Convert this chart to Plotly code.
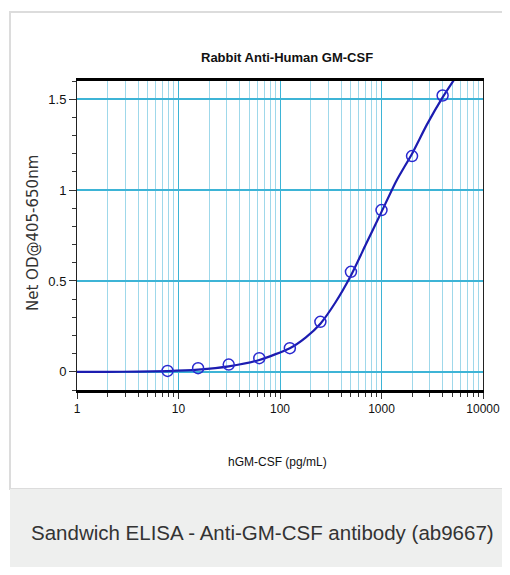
import plotly.graph_objects as go

# Data: standard points (concentration pg/mL, net OD)
conc = [7.8, 15.6, 31.25, 62.5, 125, 250, 500, 1000, 2000, 4000]
od = [0.005, 0.02, 0.04, 0.075, 0.13, 0.275, 0.55, 0.89, 1.187, 1.52]

# Fitted curve
fit_x = [1, 2, 4, 7.8, 15.6, 31.25, 62.5, 125, 180, 250, 350, 500, 700, 1000, 1400, 2000, 2800, 4000, 6000]
fit_y = [0.0, 0.0, 0.001, 0.004, 0.012, 0.03, 0.065, 0.13, 0.19, 0.265, 0.38, 0.53, 0.70, 0.88, 1.05, 1.2, 1.36, 1.51, 1.66]

x_major = [1, 10, 100, 1000, 10000]
x_major_text = ["1", "10", "100", "1000", "10000"]
x_minor = [m * 10 ** d for d in range(4) for m in range(2, 10)]
y_major = [0, 0.5, 1, 1.5]
y_major_text = ["0", "0.5", "1", "1.5"]

title = "Rabbit Anti-Human GM-CSF"
x_title = "hGM-CSF (pg/mL)"
y_title = "Net OD@405-650nm"
caption = "Sandwich ELISA - Anti-GM-CSF antibody (ab9667)"

SANS = "Liberation Sans, Arial, sans-serif"
OFF = 8  # page body margin
W, H = 510 - 2 * OFF, 575 - 2 * OFF
L, T = 77 - OFF, 81 - OFF
R = W - (483 - OFF)
B = H - (390 - OFF)
PW, PH = W - L - R, H - T - B


def px(xp):
    return (xp - OFF - L) / PW


def py(yp):
    return (H - B - (yp - OFF)) / PH


fig = go.Figure()
fig.add_trace(go.Scatter(x=fit_x, y=fit_y, mode="lines",
                         line=dict(color="#1c1cb0", width=2.2, shape="spline", smoothing=0.6),
                         hoverinfo="skip", showlegend=False))
fig.add_trace(go.Scatter(x=conc, y=od, mode="markers",
                         marker=dict(symbol="circle-open", size=11, color="#2a2ad0",
                                     line=dict(width=1.5, color="#2a2ad0")),
                         showlegend=False, cliponaxis=False))

shapes = [
    dict(type="rect", xref="paper", yref="paper", x0=px(10), x1=px(530), y0=py(489), y1=py(12),
         fillcolor="white", line=dict(color="#dcdcdc", width=2), layer="below"),
    dict(type="rect", xref="paper", yref="paper", x0=px(10), x1=px(530), y0=py(590), y1=py(489),
         fillcolor="#eeefee", line=dict(width=0), layer="below"),
]

annotations = [
    dict(text=f"<b>{title}</b>", xref="paper", yref="paper", x=px(287), y=py(57), showarrow=False,
         font=dict(family=SANS, size=13, color="#111"), xanchor="center", yanchor="middle"),
    dict(text=x_title, xref="paper", yref="paper", x=px(277), y=py(462), showarrow=False,
         font=dict(family=SANS, size=12, color="#111"), xanchor="center", yanchor="middle"),
    dict(text=y_title, xref="paper", yref="paper", x=px(33), y=py(233), showarrow=False, textangle=-90,
         font=dict(family="DejaVu Sans, sans-serif", size=15, color="#333"), xanchor="center", yanchor="middle"),
    dict(text=caption, xref="paper", yref="paper", x=px(29), y=py(532), showarrow=False,
         font=dict(family=SANS, size=20.5, color="#333"), xanchor="left", yanchor="middle"),
]

fig.update_layout(
    width=W, height=H, margin=dict(l=L, r=R, t=T, b=B, autoexpand=False),
    paper_bgcolor="white", plot_bgcolor="white",
    shapes=shapes, annotations=annotations,
    xaxis=dict(type="log", range=[0, 4], tickvals=x_major, ticktext=x_major_text, automargin=False,
               showgrid=True, gridcolor="#3db4d6", gridwidth=1.3,
               ticks="outside", ticklen=6, tickcolor="#333", tickwidth=1,
               showline=True, linecolor="black", linewidth=3, mirror=True,
               tickfont=dict(family=SANS, size=12, color="#111"),
               minor=dict(tickvals=x_minor, showgrid=True, gridcolor="#9fd8ea", gridwidth=1,
                          ticks="outside", ticklen=4, tickcolor="#333"),
               zeroline=False),
    yaxis=dict(range=[-0.1, 1.6], tickvals=y_major, ticktext=y_major_text, automargin=False,
               showgrid=True, gridcolor="#3db4d6", gridwidth=1.5,
               ticks="outside", ticklen=7, tickcolor="#333", tickwidth=1,
               showline=True, linecolor="#222", linewidth=1, mirror=True,
               tickfont=dict(family=SANS, size=13, color="#111"),
               minor=dict(dtick=0.1, ticks="outside", ticklen=4, tickcolor="#333", showgrid=False),
               zeroline=False),
)

fig.write_html("out.html")
